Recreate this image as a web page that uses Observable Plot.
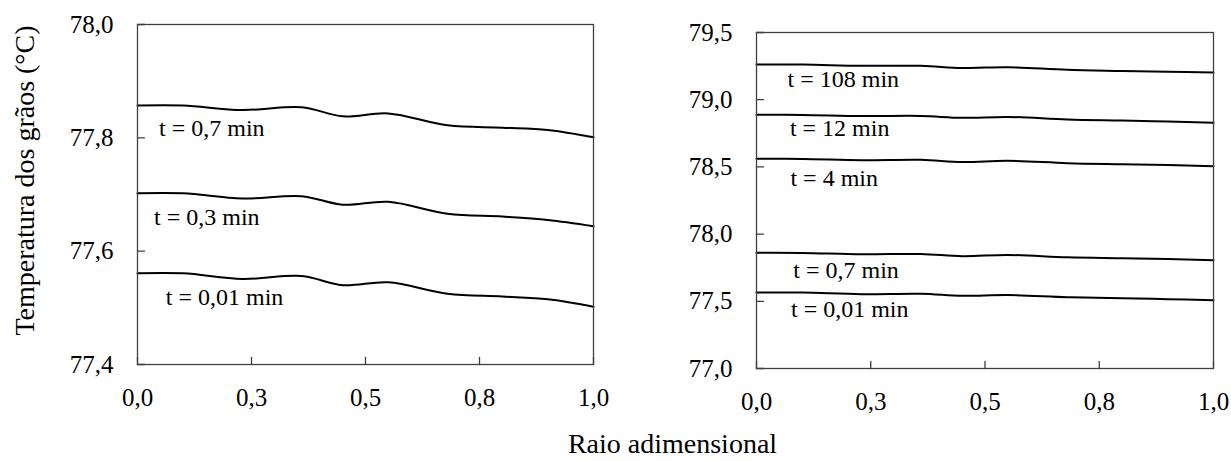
<!DOCTYPE html>
<html><head><meta charset="utf-8">
<script src="https://cdn.jsdelivr.net/npm/d3@7"></script>
<script src="https://cdn.jsdelivr.net/npm/@observablehq/plot@0.6"></script>
<style>
html,body{margin:0;padding:0;background:#fff;}
#chart{position:relative;width:1231px;height:461px;background:#fff;}
#chart svg{position:absolute;left:0;top:0;}
</style></head><body><div id="chart"></div>
<script>
// ---- data ----
const radius = [0, 0.1, 0.23, 0.36, 0.45, 0.55, 0.68, 0.8, 0.9, 1.0];

const leftNames = ["t = 0,7 min", "t = 0,3 min", "t = 0,01 min"];
const left_t07  = [77.857, 77.857, 77.849, 77.854, 77.838, 77.843, 77.822, 77.818, 77.814, 77.801];
const left_t03  = [77.702, 77.702, 77.693, 77.697, 77.682, 77.687, 77.666, 77.661, 77.655, 77.644];
const left_t001 = [77.561, 77.561, 77.551, 77.556, 77.540, 77.545, 77.525, 77.520, 77.515, 77.502];
const leftLabelX = [0.163, 0.152, 0.191];
const leftLabelY = [77.816, 77.659, 77.519];

const rightNames = ["t = 108 min", "t = 12 min", "t = 4 min", "t = 0,7 min", "t = 0,01 min"];
const right_t108 = [79.262, 79.261, 79.252, 79.252, 79.236, 79.242, 79.222, 79.214, 79.208, 79.202];
const right_t12  = [78.888, 78.887, 78.878, 78.879, 78.865, 78.872, 78.853, 78.845, 78.838, 78.828];
const right_t4   = [78.560, 78.559, 78.550, 78.553, 78.536, 78.545, 78.528, 78.520, 78.514, 78.505];
const right_t07  = [77.861, 77.860, 77.850, 77.852, 77.836, 77.845, 77.828, 77.821, 77.815, 77.806];
const right_t001 = [77.566, 77.565, 77.553, 77.556, 77.541, 77.547, 77.531, 77.523, 77.516, 77.508];
const rightLabelX = [0.19, 0.182, 0.17, 0.196, 0.204];
const rightLabelY = [79.150, 78.784, 78.412, 77.732, 77.444];

const xTicks = [0, 0.25, 0.5, 0.75, 1];
const xTickLabels = ["0,0", "0,3", "0,5", "0,8", "1,0"];
const leftYTicks = [77.4, 77.6, 77.8, 78.0];
const leftYTickLabels = ["77,4", "77,6", "77,8", "78,0"];
const rightYTicks = [77.0, 77.5, 78.0, 78.5, 79.0, 79.5];
const rightYTickLabels = ["77,0", "77,5", "78,0", "78,5", "79,0", "79,5"];

const yTitle = "Temperatura dos grãos (°C)";
const xTitle = "Raio adimensional";

// ---- build ----
const frameColor = "#404040";
const tickShape = {draw(context, l) { context.moveTo(0, 0); context.lineTo(0, -l); }};
const font = "'Liberation Serif', 'Times New Roman', serif";

function longData(names, arrays) {
  const out = [];
  names.forEach((n, k) => arrays[k].forEach((v, i) => out.push({s: n, x: radius[i], y: v})));
  return out;
}
function labelData(names, xs, ys) {
  return names.map((n, k) => ({name: n, x: xs[k], y: ys[k]}));
}

function panel({data, labels, yDomain, yTicks, yTickLabels, m, background, extra}) {
  return Plot.plot({
    width: 1231, height: 461,
    marginLeft: m[0], marginRight: m[1], marginTop: m[2], marginBottom: m[3],
    x: {domain: [0, 1]},
    y: {domain: yDomain},
    style: {fontFamily: font, color: "black", background, overflow: "visible"},
    marks: [
      Plot.line(data, {x: "x", y: "y", z: "s", curve: "catmull-rom", stroke: "black", strokeWidth: 2}),
      Plot.frame({stroke: frameColor, strokeWidth: 1.3}),
      Plot.axisX({ticks: xTicks, tickFormat: d => xTickLabels[xTicks.indexOf(d)], tickSize: 0, tickPadding: 24, fontSize: 25, label: null}),
      Plot.axisY({ticks: yTicks, tickFormat: d => yTickLabels[yTicks.indexOf(d)], tickSize: 0, tickPadding: 24, fontSize: 25, label: null}),
      Plot.vector(xTicks, {x: d => d, frameAnchor: "bottom", length: 7, anchor: "start", shape: tickShape, stroke: frameColor, strokeWidth: 1.3}),
      Plot.vector(yTicks, {y: d => d, frameAnchor: "left", rotate: 90, length: 7, anchor: "start", shape: tickShape, stroke: frameColor, strokeWidth: 1.3}),
      Plot.text(labels, {x: "x", y: "y", text: "name", fontSize: 24, fill: "black"}),
      ...extra
    ]
  });
}

const leftPlot = panel({
  data: longData(leftNames, [left_t07, left_t03, left_t001]),
  labels: labelData(leftNames, leftLabelX, leftLabelY),
  yDomain: [77.4, 78.0], yTicks: leftYTicks, yTickLabels: leftYTickLabels,
  m: [137, 1231 - 593, 24, 461 - 364], background: "white",
  extra: [
    Plot.text([yTitle], {frameAnchor: "left", textAnchor: "middle", lineAnchor: "middle", rotate: -90, dx: -112, dy: -14, fontSize: 28, fill: "black"}),
    Plot.text([xTitle], {frameAnchor: "bottom-left", textAnchor: "middle", lineAnchor: "middle", dx: 535, dy: 80, fontSize: 28, fill: "black"})
  ]
});

const rightPlot = panel({
  data: longData(rightNames, [right_t108, right_t12, right_t4, right_t07, right_t001]),
  labels: labelData(rightNames, rightLabelX, rightLabelY),
  yDomain: [77.0, 79.5], yTicks: rightYTicks, yTickLabels: rightYTickLabels,
  m: [756, 18, 32, 461 - 368], background: "transparent",
  extra: []
});

const chart = document.getElementById("chart");
chart.append(leftPlot, rightPlot);
</script>
</body></html>
